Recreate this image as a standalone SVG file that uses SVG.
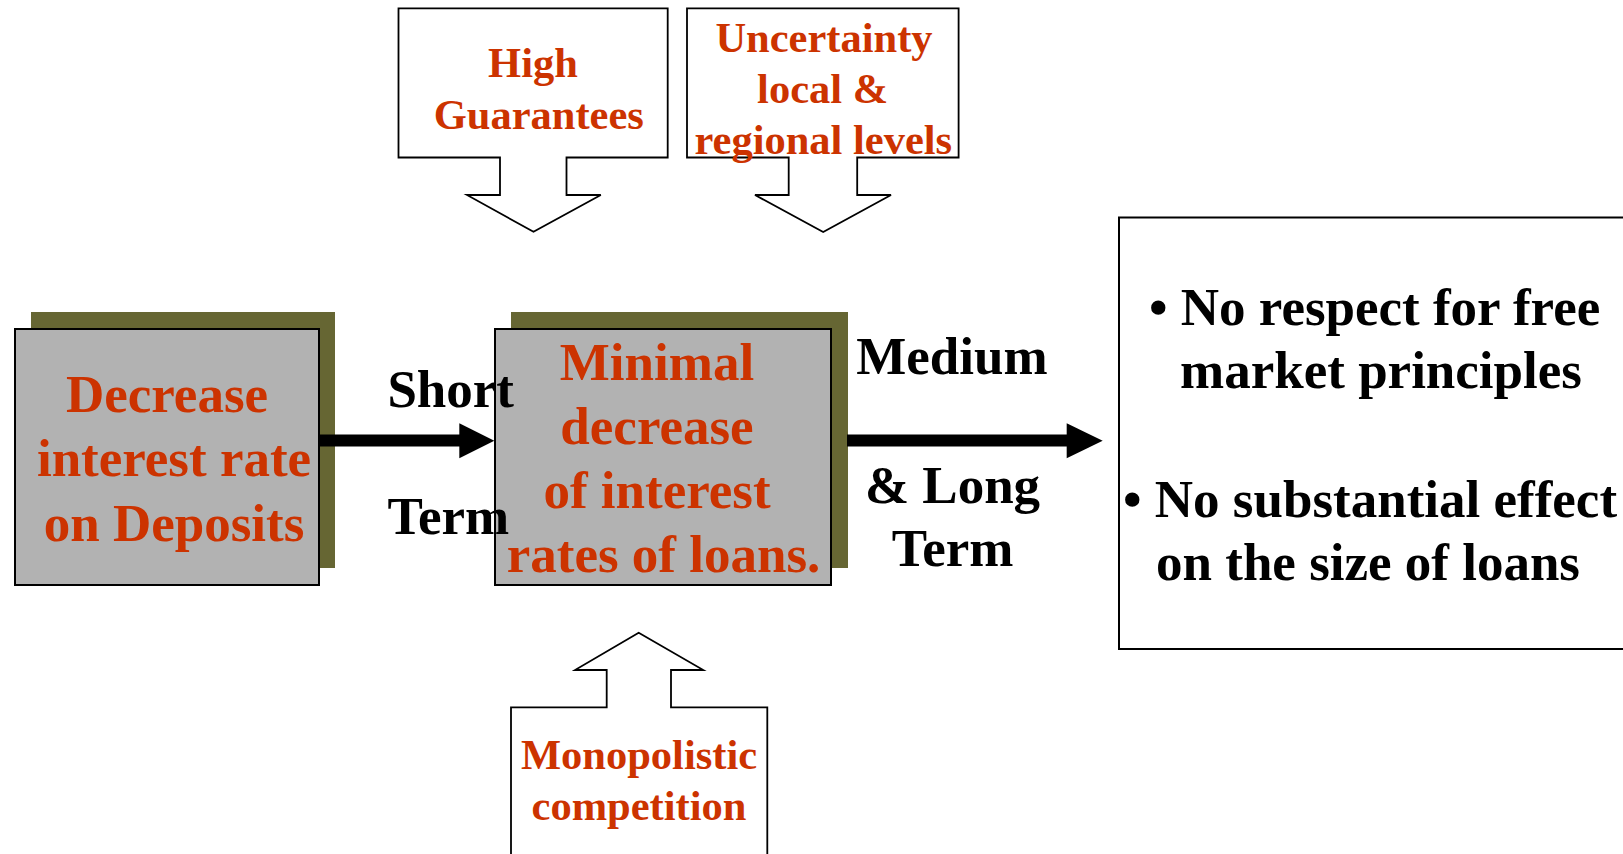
<svg xmlns="http://www.w3.org/2000/svg" width="1623" height="854" viewBox="0 0 1623 854">
<style>
  .big { font-family: "Liberation Serif", "Times New Roman", serif; font-weight: bold; font-size: 53px; }
  .call { font-family: "Liberation Serif", "Times New Roman", serif; font-weight: bold; font-size: 42.5px; fill: #CC3300; text-anchor: middle; }
  .red { fill: #CC3300; text-anchor: middle; }
  .blk { fill: #000000; }
  .shadow { fill: #666633; }
  .box { fill: #B2B2B2; stroke: #000000; stroke-width: 2; }
  .callout { fill: #FFFFFF; stroke: #000000; stroke-width: 1.8; stroke-linejoin: miter; }
  .conn { stroke: #000000; stroke-width: 12; fill: none; }
</style>

<g id="node-decrease">
  <rect class="shadow" x="31" y="312" width="304" height="256"/>
  <rect class="box" x="15" y="329" width="304" height="256"/>
  <text class="big red" x="167" y="412">Decrease</text>
  <text class="big red" x="174" y="476">interest rate</text>
  <text class="big red" x="174" y="540.5">on Deposits</text>
</g>

<g id="node-minimal">
  <rect class="shadow" x="511" y="312" width="337" height="256"/>
  <rect class="box" x="495" y="329" width="336" height="256"/>
  <text class="big red" x="657" y="380">Minimal</text>
  <text class="big red" x="657" y="444">decrease</text>
  <text class="big red" x="657" y="508">of interest</text>
  <text class="big red" x="663.5" y="572">rates of loans.</text>
</g>

<g id="node-effects">
  <rect x="1119" y="217.5" width="520" height="431.5" fill="#FFFFFF" stroke="#000000" stroke-width="2"/>
  <text class="big blk" x="1149" y="325">• No respect for free</text>
  <text class="big blk" x="1381" y="388" text-anchor="middle">market principles</text>
  <text class="big blk" x="1123" y="517">• No substantial effect</text>
  <text class="big blk" x="1156" y="580">on the size of loans</text>
</g>

<g id="node-guarantees">
  <path class="callout" d="M398.5,8.3 H667.7 V157.5 H566.5 V195 H600.8 L533.5,231.8 L467,195 H500 V157.5 H398.5 Z"/>
  <text class="call" x="533" y="77">High</text>
  <text class="call" x="538.8" y="129">Guarantees</text>
</g>

<g id="node-uncertainty">
  <path class="callout" d="M687,8.3 H958.6 V157.5 H857.2 V195 H891 L823.2,232 L755,195 H788.7 V157.5 H687 Z"/>
  <text class="call" x="824" y="52">Uncertainty</text>
  <text class="call" x="822.6" y="103">local &amp;</text>
  <text class="call" x="823.3" y="154">regional levels</text>
</g>

<g id="node-monopolistic">
  <path class="callout" d="M511,870 V707.3 H606.7 V670 H575 L638.7,632.7 L703.3,670 H671 V707.3 H767.3 V870 Z"/>
  <text class="call" x="639" y="769">Monopolistic</text>
  <text class="call" x="639" y="820">competition</text>
</g>

<g id="connectors">
  <line class="conn" x1="318" y1="440.5" x2="461" y2="440.5"/>
  <polygon points="459.3,423.3 494.3,440.7 459.3,458.3" fill="#000000"/>
  <text class="big blk" x="387.4" y="406.5">Short</text>
  <text class="big blk" x="387.4" y="534">Term</text>

  <line class="conn" x1="847" y1="440.5" x2="1068" y2="440.5"/>
  <polygon points="1066.7,423.3 1102.7,440.7 1066.7,458.3" fill="#000000"/>
  <text class="big blk" x="952" y="374" text-anchor="middle">Medium</text>
  <text class="big blk" x="952.5" y="502.5" text-anchor="middle">&amp; Long</text>
  <text class="big blk" x="952.5" y="566" text-anchor="middle">Term</text>
</g>
</svg>
